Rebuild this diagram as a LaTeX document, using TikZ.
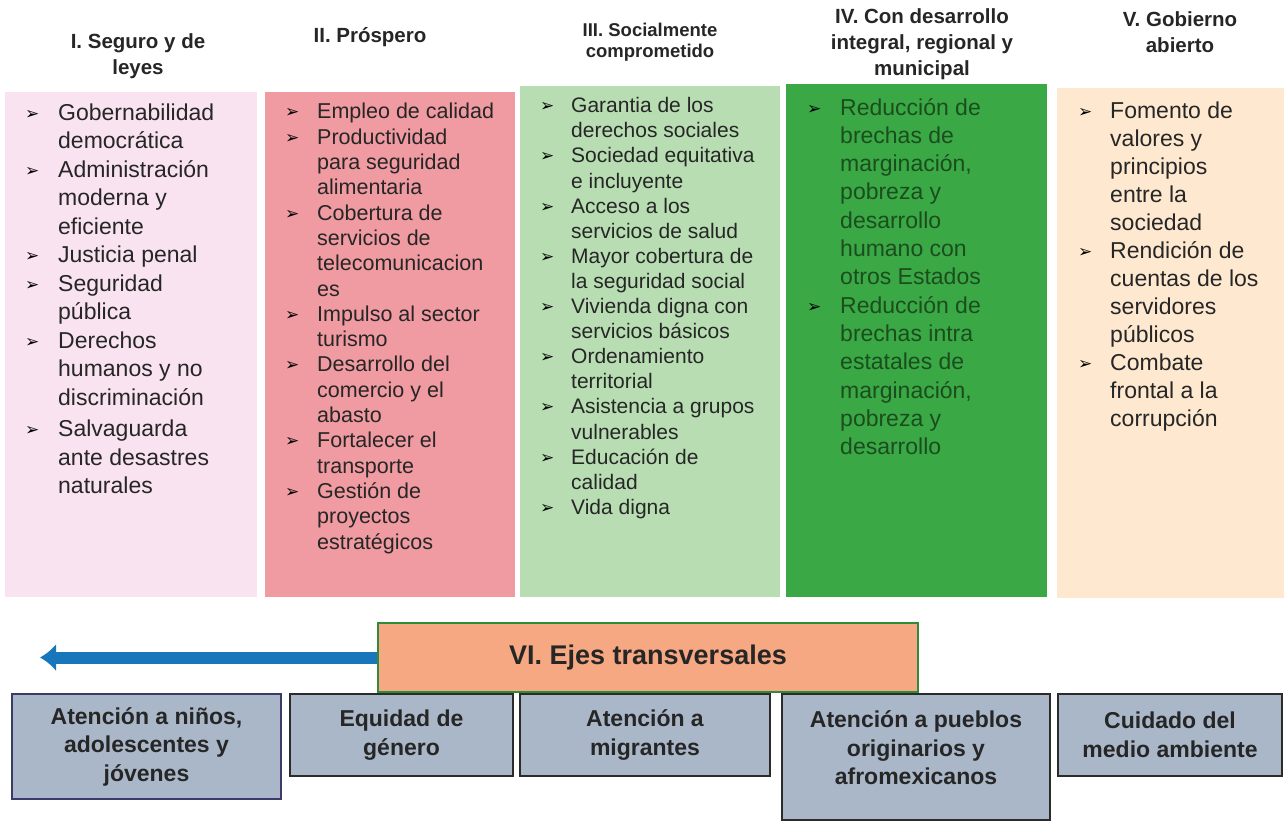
\documentclass[tikz,border=0pt]{standalone}
\usepackage{fontspec}
\setmainfont{Liberation Sans}
\newfontfamily\dejavu{DejaVu Sans}
\usetikzlibrary{arrows.meta}
\definecolor{cI}{HTML}{FAE3F0}
\definecolor{cII}{HTML}{F09AA1}
\definecolor{cIII}{HTML}{B8DDB3}
\definecolor{cIV}{HTML}{3AA845}
\definecolor{cV}{HTML}{FEE9D0}
\definecolor{ejes}{HTML}{F5A882}
\definecolor{ejesb}{HTML}{2E8B3A}
\definecolor{arrowc}{HTML}{1877BA}
\definecolor{boxc}{HTML}{A9B7C8}
\definecolor{boxb}{HTML}{2B2B2B}
\definecolor{boxbp}{HTML}{3C3A6A}
\definecolor{txt}{HTML}{262626}
\definecolor{txtg}{HTML}{1B4D1E}
\newcommand\bul{{\dejavu\bfseries\fontsize{17}{17}\selectfont\color{black}\raisebox{1pt}{➢}}}
\newlength\bw
\newcommand\B{\makebox[\bw][l]{\bul}}
\tikzset{
  head/.style={font=\bfseries\fontsize{20.5}{26}\selectfont, align=center, text=txt, inner sep=0pt},
  list/.style={anchor=north west, inner sep=0pt, text=txt, align=left},
  bbox/.style={draw=boxb, line width=2.5pt, fill=boxc, align=center, text=txt,
    font=\bfseries\fontsize{23}{28.5}\selectfont, inner sep=0pt},
  btext/.style={align=center, text=txt, font=\bfseries\fontsize{23}{28.5}\selectfont, inner sep=0pt},
}
\begin{document}
\begin{tikzpicture}[x=1pt,y=-1pt]
\path[use as bounding box, fill=white] (0,0) rectangle (1284,822);
% column boxes
\fill[cI] (5,92) rectangle (257,597);
\fill[cII] (265,92) rectangle (515,597);
\fill[cIII] (520,86) rectangle (780,597);
\fill[cIV] (786,84) rectangle (1047,597);
\fill[cV] (1057,88) rectangle (1284,598);
% headers
\node[head] (h1) at (138,56.5) {I. Seguro y de\\leyes};
\node[head] (h2) at (370,37) {II. Próspero};
\node[head, font=\bfseries\fontsize{18.5}{21}\selectfont] (h3) at (650,42.5) {III. Socialmente\\comprometido};
\node[head] (h4) at (922,44) {IV. Con desarrollo\\integral, regional y\\municipal};
\node[head] (h5) at (1180,32.5) {V. Gobierno\\abierto};
% lists
\setlength\bw{33pt}
\node[list, font=\fontsize{23}{28.5}\selectfont] (l1) at (25,100) {%
\begin{tabular}{@{}l@{}l@{}}
\B & Gobernabilidad\\ & democrática\\ \B & Administración\\ & moderna y\\ & eficiente\\
\B & Justicia penal\\ \B & Seguridad\\ & pública\\ \B & Derechos\\ & humanos y no\\
& discriminación\\[3pt] \B & Salvaguarda\\ & ante desastres\\ & naturales
\end{tabular}};
\setlength\bw{32pt}
\node[list, font=\fontsize{21.5}{25.3}\selectfont] (l2) at (285,101) {%
\begin{tabular}{@{}l@{}l@{}}
\B & Empleo de calidad\\ \B & Productividad\\ & para seguridad\\ & alimentaria\\
\B & Cobertura de\\ & servicios de\\ & telecomunicacion\\ & es\\
\B & Impulso al sector\\ & turismo\\ \B & Desarrollo del\\ & comercio y el\\ & abasto\\
\B & Fortalecer el\\ & transporte\\ \B & Gestión de\\ & proyectos\\ & estratégicos
\end{tabular}};
\setlength\bw{31pt}
\node[list, font=\fontsize{21}{25.1}\selectfont] (l3) at (540,95) {%
\begin{tabular}{@{}l@{}l@{}}
\B & Garantia de los\\ & derechos sociales\\ \B & Sociedad equitativa\\ & e incluyente\\
\B & Acceso a los\\ & servicios de salud\\ \B & Mayor cobertura de\\ & la seguridad social\\
\B & Vivienda digna con\\ & servicios básicos\\ \B & Ordenamiento\\ & territorial\\
\B & Asistencia a grupos\\ & vulnerables\\ \B & Educación de\\ & calidad\\ \B & Vida digna
\end{tabular}};
\setlength\bw{33pt}
\node[list, text=txtg, font=\fontsize{23}{28.3}\selectfont] (l4) at (807,95) {%
\begin{tabular}{@{}l@{}l@{}}
\B & Reducción de\\ & brechas de\\ & marginación,\\ & pobreza y\\ & desarrollo\\ & humano con\\ & otros Estados\\
\B & Reducción de\\ & brechas intra\\ & estatales de\\ & marginación,\\ & pobreza y\\ & desarrollo
\end{tabular}};
\setlength\bw{32pt}
\node[list, font=\fontsize{23}{28}\selectfont] (l5) at (1078,99) {%
\begin{tabular}{@{}l@{}l@{}}
\B & Fomento de\\ & valores y\\ & principios\\ & entre la\\ & sociedad\\
\B & Rendición de\\ & cuentas de los\\ & servidores\\ & públicos\\
\B & Combate\\ & frontal a la\\ & corrupción
\end{tabular}};
% ejes transversales
\node[draw=ejesb, line width=2.5pt, fill=ejes, minimum width=540pt, minimum height=69pt,
  inner sep=0pt, font=\bfseries\fontsize{27}{30}\selectfont, text=txt] (ejes) at (648,657.5) {VI. Ejes transversales};
\coordinate (tip) at (40,657.5);
\draw[arrowc, line width=12pt, -{Latex[length=16pt,width=28pt]}] (ejes.west) -- (tip);
% bottom boxes
\node[bbox, draw=boxbp, minimum width=269pt, minimum height=105pt] (b1) at (146.5,746.5) {Atención a niños,\\adolescentes y\\jóvenes};
\node[bbox, minimum width=223pt, minimum height=82pt] (b2) at (401.5,735) {Equidad de\\género};
\node[bbox, minimum width=250pt, minimum height=82pt] (b3) at (645,735) {Atención a\\migrantes};
\node[bbox, minimum width=268pt, minimum height=126pt] (b4) at (916,757) {};
\node[btext] (b4t) at (916,748) {Atención a pueblos\\originarios y\\afromexicanos};
\node[bbox, minimum width=224pt, minimum height=82pt] (b5) at (1170,735) {Cuidado del\\medio ambiente};
\end{tikzpicture}
\end{document}
